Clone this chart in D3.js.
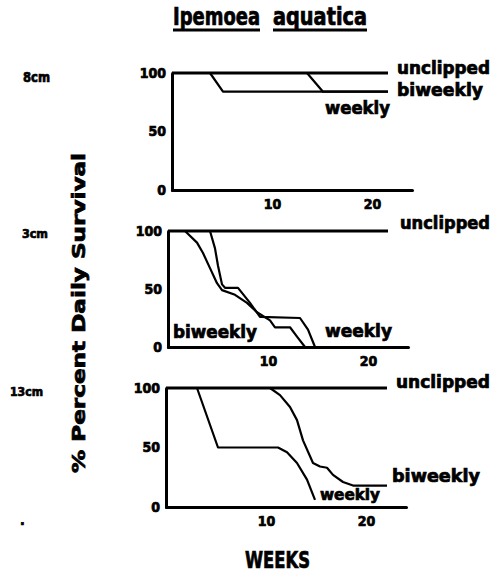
<!DOCTYPE html>
<html>
<head>
<meta charset="utf-8">
<script src="https://cdnjs.cloudflare.com/ajax/libs/d3/7.8.5/d3.min.js"></script>
<style>
  body { margin: 0; background: #fff; }
  text { font-family: "DejaVu Sans Condensed", "Liberation Sans Narrow", sans-serif; font-weight: bold; fill: #000; stroke: #000; stroke-width: 0.7px; }
</style>
</head>
<body>
<div id="chart"></div>
<script>
  const heights = ["8cm", "3cm", "13cm"];
  const xTicks = [10, 20];
  const yTicks = [0, 50, 100];

  // [week, % survival]
  const unclipped8 = [[0, 100], [21.6, 100]];
  const weekly8 = [[0, 100], [3.8, 100], [5.1, 84], [21.6, 84]];
  const biweekly8 = [[0, 100], [13.5, 100], [15.1, 84], [21.6, 84]];

  const unclipped3 = [[0, 100], [22, 100]];
  const weekly3 = [[0, 100], [4.2, 100], [4.7, 85], [5.0, 70], [5.4, 54], [5.7, 51], [7.0, 51], [8.2, 38], [9.2, 26], [13.2, 25], [14.0, 15], [14.7, 0]];
  const biweekly3 = [[0, 100], [1.7, 100], [2.9, 90], [3.5, 81], [4.2, 68], [4.9, 55], [5.4, 49], [6.7, 45], [7.9, 38], [8.9, 30], [10.2, 23], [10.7, 17], [12.2, 17], [12.9, 9], [13.7, 0]];

  const unclipped13 = [[0, 100], [22.1, 100]];
  const weekly13 = [[0, 100], [3.1, 100], [5.2, 50], [11.2, 50], [12.1, 46], [13.1, 37], [14.1, 23], [14.9, 6]];
  const biweekly13 = [[0, 100], [10.4, 100], [11.4, 94], [12.4, 84], [13.1, 73], [13.7, 56], [14.7, 37], [15.4, 34], [16.1, 33], [16.7, 27], [17.7, 21], [18.7, 18], [22.1, 18]];

  const width = 497;
  const height = 576;

  const panels = [
    {
      name: heights[0], x0: 172, top: 73, bottom: 190,
      series: [weekly8, biweekly8], unclipped: unclipped8,
      nameLab: { x: 23, y: 82, len: 27, size: 14 },
      labels: [
        { t: "unclipped", x: 397, y: 74, len: 93, size: 18 },
        { t: "biweekly", x: 397, y: 96, len: 86, size: 18 },
        { t: "weekly", x: 325, y: 114, len: 65, size: 18 }
      ]
    },
    {
      name: heights[1], x0: 168, top: 231, bottom: 347,
      series: [weekly3, biweekly3], unclipped: unclipped3,
      nameLab: { x: 22, y: 238, len: 26, size: 13 },
      labels: [
        { t: "unclipped", x: 400, y: 229, len: 90, size: 18 },
        { t: "weekly", x: 325, y: 337, len: 67, size: 18 },
        { t: "biweekly", x: 173, y: 338, len: 84, size: 18 }
      ]
    },
    {
      name: heights[2], x0: 166, top: 388, bottom: 507,
      series: [weekly13, biweekly13], unclipped: unclipped13,
      nameLab: { x: 10, y: 396, len: 33, size: 13 },
      labels: [
        { t: "unclipped", x: 396, y: 388, len: 94, size: 18 },
        { t: "biweekly", x: 392, y: 482, len: 88, size: 18 },
        { t: "weekly", x: 320, y: 500, len: 60, size: 16 }
      ]
    }
  ];

  const svg = d3.select("#chart")
    .append("svg")
    .attr("width", width)
    .attr("height", height);

  // title, two separately underlined words
  const title = [
    { t: "Ipemoea", x: 173, len: 87 },
    { t: "aquatica", x: 273, len: 94 }
  ];
  title.forEach(w => {
    svg.append("text")
      .attr("x", w.x).attr("y", 25)
      .attr("textLength", w.len).attr("lengthAdjust", "spacingAndGlyphs")
      .style("font-size", "24px")
      .text(w.t);
    svg.append("line")
      .attr("x1", w.x).attr("x2", w.x + w.len)
      .attr("y1", 30).attr("y2", 30)
      .attr("stroke", "black").attr("stroke-width", 3);
  });

  const x = d3.scaleLinear().domain([0, 24]).range([0, 240]);

  panels.forEach(p => {
    const y = d3.scaleLinear().domain([0, 100]).range([p.bottom - p.top, 0]);
    const g = svg.append("g").attr("transform", `translate(${p.x0}, ${p.top})`);

    const line = d3.line()
      .x(d => x(d[0]))
      .y(d => y(d[1]));

    g.selectAll("path.curve")
      .data(p.series)
      .join("path")
      .attr("class", "curve")
      .attr("d", line)
      .attr("fill", "none")
      .attr("stroke", "black")
      .attr("stroke-width", 2.2)
      .attr("stroke-linejoin", "round");

    g.append("path")
      .attr("d", line(p.unclipped))
      .attr("fill", "none")
      .attr("stroke", "black")
      .attr("stroke-width", 3);

    const yAxis = g.append("g")
      .call(d3.axisLeft(y).tickValues(yTicks).tickSize(0).tickPadding(6));
    const xAxis = g.append("g")
      .attr("transform", `translate(0, ${y(0)})`)
      .call(d3.axisBottom(x).tickValues(xTicks).tickSize(0).tickPadding(9));

    [yAxis, xAxis].forEach(a => {
      a.select(".domain").attr("stroke-width", 3).attr("stroke-linecap", "round");
      a.selectAll("text")
        .style("font-size", "14px")
        .style("font-family", "'DejaVu Sans Condensed', sans-serif")
        .style("font-weight", "bold")
        .style("stroke", "#000")
        .style("stroke-width", "0.7px");
    });

    svg.append("text")
      .attr("x", p.nameLab.x).attr("y", p.nameLab.y)
      .attr("textLength", p.nameLab.len).attr("lengthAdjust", "spacingAndGlyphs")
      .style("font-size", p.nameLab.size + "px")
      .text(p.name);

    svg.selectAll(null)
      .data(p.labels)
      .join("text")
      .attr("x", d => d.x).attr("y", d => d.y)
      .attr("textLength", d => d.len).attr("lengthAdjust", "spacingAndGlyphs")
      .style("font-size", d => d.size + "px")
      .text(d => d.t);
  });

  svg.append("text")
    .attr("transform", "translate(85, 313) rotate(-90)")
    .attr("text-anchor", "middle")
    .attr("textLength", 320).attr("lengthAdjust", "spacingAndGlyphs")
    .style("font-size", "18px")
    .text("% Percent Daily Survival");

  svg.append("text")
    .attr("x", 245).attr("y", 568)
    .attr("textLength", 65).attr("lengthAdjust", "spacingAndGlyphs")
    .style("font-size", "23px")
    .text("WEEKS");

  svg.append("text")
    .attr("x", 20).attr("y", 525)
    .style("font-size", "14px")
    .text(".");
</script>
</body>
</html>
